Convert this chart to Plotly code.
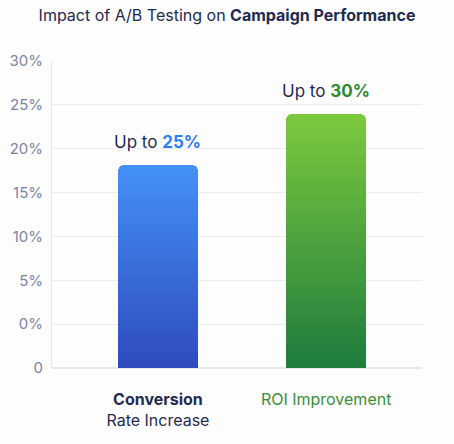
import plotly.graph_objects as go

# values in axis units (axis starts at "0", the "0%" tick sits one step above)
categories = ["Conversion Rate Increase", "ROI Improvement"]
values = [23.1, 29.0]
claims = ["25%", "30%"]
tick_vals = [0, 5, 10, 15, 20, 25, 30, 35]
tick_text = ["0", "0%", "5%", "10%", "15%", "20%", "25%", "30%"]

navy = "#1f2b50"
grads = [("#4490f5", "#2f4cbd"), ("#7cc83d", "#1f7d3e")]
label_cols = ["#2f7bf0", "#2e8a2e"]
nseg = 30


def mix(c1, c2, t):
    a = [int(c1[i:i + 2], 16) for i in (1, 3, 5)]
    b = [int(c2[i:i + 2], 16) for i in (1, 3, 5)]
    return "#%02x%02x%02x" % tuple(round(a[k] + (b[k] - a[k]) * t) for k in range(3))


fig = go.Figure()
# gradient made of stacked slices, bottom (dark) to top (light)
for s in range(nseg):
    cols = [mix(g[1], g[0], s / (nseg - 1)) for g in grads]
    fig.add_trace(go.Bar(
        x=[0, 1], y=[v / nseg for v in values],
        marker=dict(color=cols, line=dict(width=0)),
        width=0.476, showlegend=False, hoverinfo="skip"))

for i, v in enumerate(values):
    fig.add_annotation(
        x=i, y=v, yanchor="bottom", yshift=11, showarrow=False,
        text="Up to <b><span style='color:%s'>%s</span></b>" % (label_cols[i], claims[i]),
        font=dict(size=17, color=navy))

fig.update_layout(
    barmode="stack", bargap=0, barcornerradius=6,
    width=454, height=444,
    margin=dict(l=52, r=32, t=61, b=76, autoexpand=False),
    paper_bgcolor="#fdfdfe", plot_bgcolor="#fdfdfe",
    font=dict(family="Inter, Roboto, sans-serif", color=navy),
    title=dict(text="Impact of A/B Testing on <b>Campaign Performance</b>",
               x=0.5, xanchor="center", y=0.966, yanchor="middle",
               font=dict(size=16, color=navy)),
)
fig.update_xaxes(
    range=[-0.63, 1.57], tickvals=[0, 1], automargin=False,
    ticktext=["<b>Conversion</b><br>Rate Increase",
              "<span style='color:#3a8f3a'>ROI Improvement</span>"],
    tickfont=dict(size=16, color=navy), showgrid=False, zeroline=False,
    showline=False, ticks="", ticklabelstandoff=20)
fig.update_yaxes(
    range=[0, 35], tickvals=tick_vals, ticktext=tick_text, automargin=False,
    tickfont=dict(size=15, color="#7a84a6"), gridcolor="#e9ecf4",
    showline=True, linecolor="#e3e7f1", zeroline=True, zerolinecolor="#e3e7f1",
    ticks="", ticklabelstandoff=5)

# drop the page's default body margin so the figure sits at the window corner
fig.write_html("out.html", config={"displayModeBar": False},
               post_script="document.body.style.margin='0';")
